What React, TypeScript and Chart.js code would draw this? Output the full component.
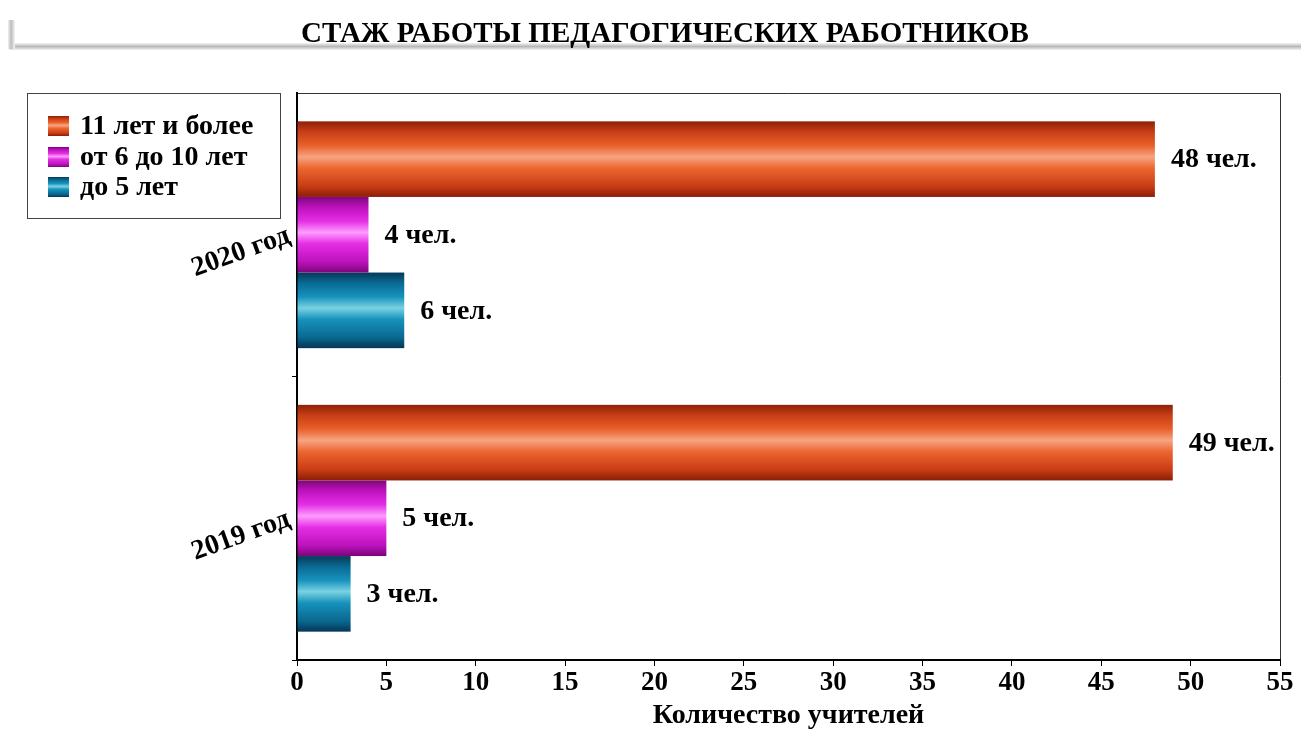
import { useEffect, useRef } from 'react';
import { Chart, registerables } from 'chart.js';

Chart.register(...registerables);

const titleText = 'СТАЖ РАБОТЫ ПЕДАГОГИЧЕСКИХ РАБОТНИКОВ';
const xAxisTitle = 'Количество учителей';
const categories = ['2020 год', '2019 год'];
const seriesNames = ['11 лет и более', 'от 6 до 10 лет', 'до 5 лет'];
const over11Years = [48, 49];
const from6to10Years = [4, 5];
const upTo5Years = [6, 3];
const xMin = 0;
const xMax = 55;
const xStep = 5;
const valueSuffix = ' чел.';

const FONT = '"Liberation Serif", "Times New Roman", serif';

const palettes: string[][] = [
  ['#8E2008', '#C83E16', '#E9602A', '#F7A482', '#EC6630', '#C83C14', '#8A1E08'],
  ['#7E067E', '#BE12BE', '#E42EE4', '#FF9CFF', '#E42EE4', '#BC12BC', '#7A067A'],
  ['#053A58', '#0A6A94', '#1692BC', '#7AD2E2', '#1692BC', '#0A6890', '#053656'],
];
const stops = [0, 0.14, 0.32, 0.47, 0.62, 0.86, 1];

function makeGrad(ctx: CanvasRenderingContext2D, top: number, bottom: number, idx: number) {
  const g = ctx.createLinearGradient(0, top, 0, bottom);
  palettes[idx].forEach((c, i) => g.addColorStop(stops[i], c));
  return g;
}

const gradientBars = {
  id: 'gradientBars',
  beforeDatasetDraw(chart: any, args: any) {
    const ctx = chart.ctx as CanvasRenderingContext2D;
    const meta = args.meta;
    const idx = args.index;
    ctx.save();
    meta.data.forEach((el: any) => {
      const p = el.getProps(['x', 'y', 'base', 'height'], true);
      const top = p.y - p.height / 2;
      const bottom = p.y + p.height / 2;
      const left = Math.min(p.base, p.x);
      const w = Math.abs(p.x - p.base);
      ctx.fillStyle = makeGrad(ctx, top, bottom, idx);
      ctx.fillRect(left, top, w, bottom - top);
    });
    ctx.restore();
    return false;
  },
};

const valueLabels = {
  id: 'valueLabels',
  afterDatasetsDraw(chart: any) {
    const ctx = chart.ctx as CanvasRenderingContext2D;
    ctx.save();
    ctx.font = `bold 28px ${FONT}`;
    ctx.fillStyle = '#000';
    ctx.textAlign = 'left';
    ctx.textBaseline = 'middle';
    chart.data.datasets.forEach((ds: any, di: number) => {
      const meta = chart.getDatasetMeta(di);
      meta.data.forEach((el: any, i: number) => {
        const p = el.getProps(['x', 'y'], true);
        ctx.fillText(`${ds.data[i]}${valueSuffix}`, p.x + 16, p.y + 1);
      });
    });
    ctx.restore();
  },
};

const frame = {
  id: 'frame',
  beforeDraw(chart: any) {
    const ctx = chart.ctx as CanvasRenderingContext2D;
    ctx.save();
    ctx.fillStyle = '#fff';
    ctx.fillRect(0, 0, chart.width, chart.height);
    // title bar shadows
    const gb = ctx.createLinearGradient(0, 43, 0, 50);
    gb.addColorStop(0, '#f4f4f4');
    gb.addColorStop(0.5, '#b8b8b8');
    gb.addColorStop(1, '#f2f2f2');
    ctx.fillStyle = gb;
    ctx.fillRect(9, 43, chart.width - 9, 7);
    const gl = ctx.createLinearGradient(8, 0, 15, 0);
    gl.addColorStop(0, '#f0f0f0');
    gl.addColorStop(0.45, '#bcbcbc');
    gl.addColorStop(1, '#f6f6f6');
    ctx.fillStyle = gl;
    ctx.fillRect(8, 20, 7, 29);
    // title
    ctx.fillStyle = '#000';
    ctx.font = `bold 29px ${FONT}`;
    ctx.textAlign = 'center';
    ctx.textBaseline = 'alphabetic';
    ctx.fillText(titleText, 665, 42);
    // plot border (top/right)
    const a = chart.chartArea;
    ctx.strokeStyle = '#333';
    ctx.lineWidth = 1;
    ctx.beginPath();
    ctx.moveTo(a.left, a.top + 0.5);
    ctx.lineTo(a.right + 0.5, a.top + 0.5);
    ctx.lineTo(a.right + 0.5, a.bottom);
    ctx.stroke();
    ctx.restore();
  },
};

const legendBox = {
  id: 'legendBox',
  afterDraw(chart: any) {
    const ctx = chart.ctx as CanvasRenderingContext2D;
    ctx.save();
    ctx.fillStyle = '#fff';
    ctx.fillRect(27, 93, 253, 126);
    ctx.strokeStyle = '#444';
    ctx.lineWidth = 1;
    ctx.strokeRect(27.5, 93.5, 253, 125);
    const rows = [126, 157, 187];
    ctx.font = `bold 28px ${FONT}`;
    ctx.textAlign = 'left';
    ctx.textBaseline = 'middle';
    seriesNames.forEach((name, i) => {
      const cy = rows[i];
      ctx.fillStyle = makeGrad(ctx, cy - 10, cy + 10, i);
      ctx.fillRect(48, cy - 10, 21, 20);
      ctx.fillStyle = '#000';
      ctx.fillText(name, 80, cy + 1);
    });
    ctx.restore();
  },
};

export default function App() {
  const ref = useRef<HTMLCanvasElement | null>(null);
  useEffect(() => {
    document.body.style.margin = '0';
    const canvas = ref.current;
    if (!canvas) return;
    const tickFont = { family: FONT, size: 27, weight: 'bold' as const, lineHeight: 1 };
    const titleFont = { family: FONT, size: 28, weight: 'bold' as const, lineHeight: 1 };
    const chart = new Chart(canvas, {
      type: 'bar',
      data: {
        labels: categories,
        datasets: [
          { label: seriesNames[0], data: over11Years, backgroundColor: '#E9602A' },
          { label: seriesNames[1], data: from6to10Years, backgroundColor: '#E42EE4' },
          { label: seriesNames[2], data: upTo5Years, backgroundColor: '#1692BC' },
        ],
      },
      options: {
        indexAxis: 'y',
        responsive: false,
        animation: false,
        devicePixelRatio: 1,
        datasets: { bar: { categoryPercentage: 0.8, barPercentage: 1 } },
        layout: { padding: { top: 93, right: 21, left: 0, bottom: 0 } },
        plugins: {
          legend: { display: false },
          title: { display: false },
          tooltip: { enabled: false },
        },
        scales: {
          x: {
            min: xMin,
            max: xMax,
            ticks: { stepSize: xStep, color: '#000', font: tickFont, padding: 4 },
            grid: { drawOnChartArea: false, tickLength: 6, color: '#000' },
            border: { color: '#000', width: 2 },
            title: {
              display: true,
              text: xAxisTitle,
              color: '#000',
              font: titleFont,
              padding: { top: 0, bottom: 0 },
            },
            afterFit: (s: any) => {
              s.height = 70;
            },
          },
          y: {
            ticks: {
              color: '#000',
              font: { family: FONT, size: 28, weight: 'bold' as const },
              minRotation: 20,
              maxRotation: 20,
              padding: 3,
            },
            grid: {
              drawOnChartArea: false,
              tickLength: 5,
              offset: true,
              color: (c: any) => (c.index === 0 ? 'rgba(0,0,0,0)' : '#000'),
            },
            border: { color: '#000', width: 2 },
            afterFit: (s: any) => {
              s.width = 297;
            },
          },
        },
      } as any,
      plugins: [frame, gradientBars, valueLabels, legendBox],
    });
    return () => chart.destroy();
  }, []);
  return (
    <div style={{ width: 1301, height: 730, overflow: 'hidden' }}>
      <canvas ref={ref} width={1301} height={730} style={{ display: 'block' }} />
    </div>
  );
}
